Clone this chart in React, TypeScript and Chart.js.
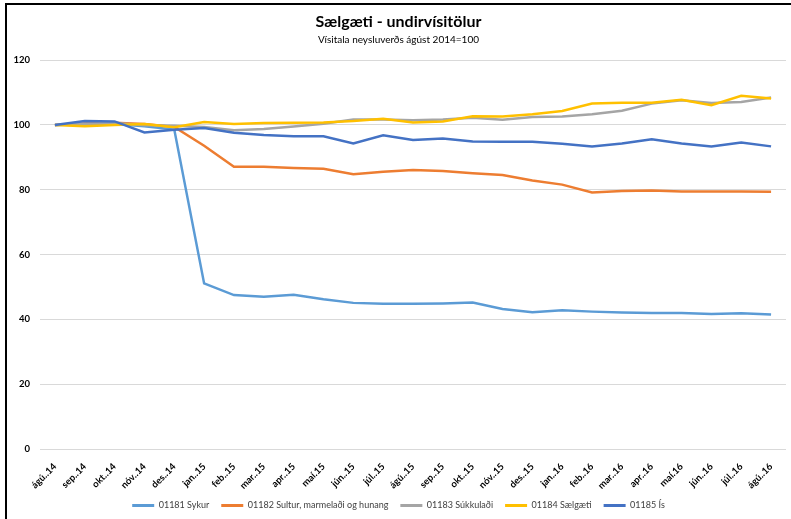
import React, { useEffect, useRef } from "react";
import { Chart, registerables } from "chart.js";

Chart.register(...registerables);

const categories = [
  "ágú..14", "sep..14", "okt..14", "nóv..14", "des..14",
  "jan..15", "feb..15", "mar..15", "apr..15", "maí.15", "jún..15", "júl..15",
  "ágú..15", "sep..15", "okt..15", "nóv..15", "des..15",
  "jan..16", "feb..16", "mar..16", "apr..16", "maí.16", "jún..16", "júl..16", "ágú..16",
];

const sykur = [100, 100.3, 100.3, 99.6, 98.6, 51.1, 47.5, 47.0, 47.6, 46.2, 45.1, 44.8, 44.8, 44.9, 45.2, 43.2, 42.2, 42.8, 42.4, 42.1, 42.0, 42.0, 41.7, 41.9, 41.5];
const sultur = [100, 100.5, 100.7, 100.3, 99.4, 93.6, 87.1, 87.1, 86.7, 86.5, 84.8, 85.6, 86.1, 85.8, 85.1, 84.6, 82.9, 81.6, 79.2, 79.6, 79.8, 79.5, 79.5, 79.5, 79.4];
const sukkuladi = [100, 100.4, 100.6, 99.9, 99.8, 99.4, 98.4, 98.8, 99.5, 100.4, 101.7, 101.7, 101.5, 101.7, 102.2, 101.6, 102.5, 102.6, 103.3, 104.4, 106.6, 107.6, 106.8, 107.1, 108.5];
const saelgaeti = [100, 99.6, 100, 100.3, 99.3, 100.9, 100.3, 100.6, 100.7, 100.8, 101.2, 101.9, 100.8, 101.1, 102.7, 102.6, 103.3, 104.3, 106.6, 106.9, 106.9, 107.8, 106.1, 109.0, 108.2];
const isValues = [100, 101.2, 101.1, 97.7, 98.5, 99.1, 97.6, 96.9, 96.5, 96.5, 94.3, 96.8, 95.4, 95.8, 94.9, 94.8, 94.8, 94.2, 93.4, 94.3, 95.6, 94.3, 93.4, 94.6, 93.4];

const seriesNames = [
  "01181 Sykur",
  "01182 Sultur, marmelaði og hunang",
  "01183 Súkkulaði",
  "01184 Sælgæti",
  "01185 Ís",
];
const seriesColors = ["#5B9BD5", "#ED7D31", "#A5A5A5", "#FFC000", "#4472C4"];
const seriesData = [sykur, sultur, sukkuladi, saelgaeti, isValues];

const titleText = "Sælgæti - undirvísitölur";
const subtitleText = "Vísitala neysluverðs ágúst 2014=100";
const yMin = 0;
const yMax = 120;
const yStep = 20;

const FONT = "Lato, 'Open Sans', sans-serif";

export default function App() {
  const canvasRef = useRef<HTMLCanvasElement | null>(null);

  useEffect(() => {
    if (!canvasRef.current) return;
    const chart = new Chart(canvasRef.current, {
      type: "line",
      data: {
        labels: categories,
        datasets: seriesData.map((d, i) => ({
          label: seriesNames[i],
          data: d,
          borderColor: seriesColors[i],
          backgroundColor: seriesColors[i],
          borderWidth: 2.5,
          pointRadius: 0,
          tension: 0,
          fill: false,
          order: seriesData.length - i,
        })),
      },
      options: {
        responsive: false,
        animation: false,
        layout: { padding: { top: 0, left: 11, right: 5, bottom: 0 } },
        plugins: {
          tooltip: { enabled: false },
          title: {
            display: true,
            text: titleText,
            color: "#000",
            font: { family: FONT, size: 16, weight: "bold" },
            padding: { top: 12, bottom: 0 },
          },
          subtitle: {
            display: true,
            text: subtitleText,
            color: "#000",
            font: { family: FONT, size: 10 },
            padding: { top: 3, bottom: 14 },
          },
          legend: {
            position: "bottom",
            labels: {
              boxWidth: 22,
              boxHeight: 3,
              padding: 12,
              color: "#404040",
              font: { family: FONT, size: 9 },
              sort: (a: any, b: any) => a.datasetIndex - b.datasetIndex,
              generateLabels: (c: any) => {
                const items = Chart.defaults.plugins.legend.labels.generateLabels(c);
                return items.map((it: any) => ({ ...it, lineWidth: 0 }));
              },
            },
          },
        },
        scales: {
          x: {
            offset: true,
            grid: { display: false },
            border: { display: false },
            ticks: {
              autoSkip: false,
              minRotation: 45,
              maxRotation: 45,
              color: "#000",
              padding: 4,
              font: { family: FONT, size: 9.5, weight: "bold" },
            },
            afterFit: (scale: any) => {
              scale.height = 40;
            },
          },
          y: {
            min: yMin,
            max: yMax,
            grid: { color: "#D9D9D9", lineWidth: 1, drawTicks: false },
            border: { display: false },
            ticks: {
              stepSize: yStep,
              padding: 10,
              color: "#000",
              font: { family: FONT, size: 9.5, weight: "bold" },
            },
            afterFit: (scale: any) => {
              scale.width = 29;
            },
          },
        },
      },
    });
    return () => chart.destroy();
  }, []);

  return (
    <div
      style={{
        position: "fixed",
        left: 0,
        top: 0,
        width: 791,
        height: 519,
        overflow: "hidden",
        background: "#fff",
      }}
    >
      <canvas ref={canvasRef} width={791} height={520} style={{ display: "block" }} />
      <div
        style={{
          position: "absolute",
          left: 5,
          top: 3,
          width: 800,
          height: 600,
          borderTop: "2px solid #000",
          borderLeft: "2px solid #000",
          pointerEvents: "none",
        }}
      />
    </div>
  );
}
